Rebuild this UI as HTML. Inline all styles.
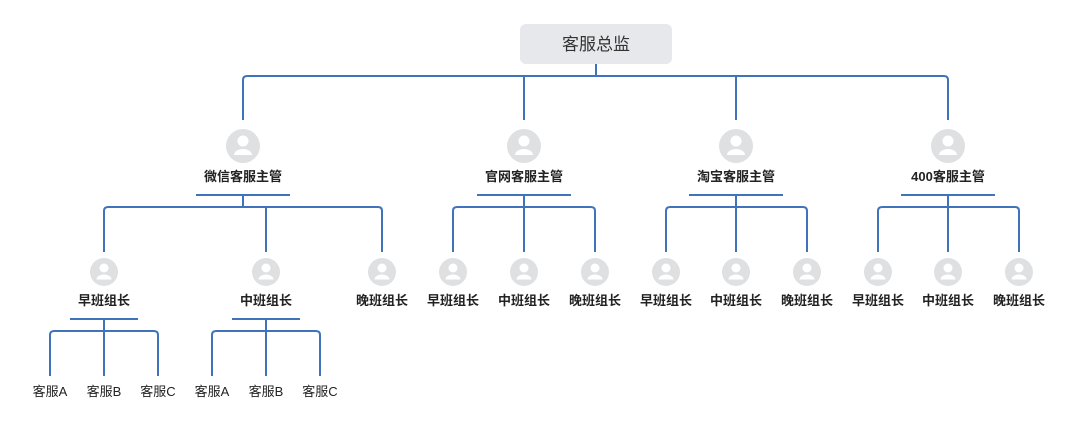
<!DOCTYPE html>
<html><head><meta charset="utf-8"><style>
html,body{margin:0;padding:0;background:#fff;}
svg{display:block;}
text{font-family:"Liberation Sans","Noto Sans CJK SC",sans-serif;fill:#222;}
.b{font-weight:bold;font-size:13px;}
.r{font-size:13px;}
</style></head><body>
<svg width="1080" height="433" viewBox="0 0 1080 433" xmlns="http://www.w3.org/2000/svg">
<defs>
<g id="av1"><circle r="17" fill="#dfe0e2"/><circle cy="-5" r="5.5" fill="#fff"/><path d="M-9 9 a9 6 0 0 1 18 0 z" fill="#fff"/></g>
<g id="av2"><circle r="14" fill="#dfe0e2"/><circle cy="-4" r="4.5" fill="#fff"/><path d="M-7.5 7.5 a7.5 5 0 0 1 15 0 z" fill="#fff"/></g>
</defs>
<rect x="520" y="24" width="152" height="40" rx="6" fill="#e6e8eb"/>
<text x="596" y="50" text-anchor="middle" font-size="17" style="fill:#333">客服总监</text>
<g fill="none" stroke="#3f74bd" stroke-width="2">
<path d="M596 64 V76"/>
<path d="M243 120 V80 q0 -4 4 -4 H944 q4 0 4 4 V120"/>
<path d="M524 76 V120 M736 76 V120"/>
<!-- level 2 -->
<path d="M196 195 H290 M243 195 V207"/>
<path d="M104 252 V211 q0 -4 4 -4 H378 q4 0 4 4 V252 M266 207 V252"/>
<path d="M477 195 H571 M524 195 V207"/>
<path d="M453 252 V211 q0 -4 4 -4 H591 q4 0 4 4 V252 M524 207 V252"/>
<path d="M689 195 H783 M736 195 V207"/>
<path d="M666 252 V211 q0 -4 4 -4 H803 q4 0 4 4 V252 M736 207 V252"/>
<path d="M901 195 H995 M948 195 V207"/>
<path d="M878 252 V211 q0 -4 4 -4 H1015 q4 0 4 4 V252 M948 207 V252"/>
<!-- level 3 -->
<path d="M70 319 H138 M104 319 V331"/>
<path d="M50 376 V335 q0 -4 4 -4 H154 q4 0 4 4 V376 M104 331 V376"/>
<path d="M232 319 H300 M266 319 V331"/>
<path d="M212 376 V335 q0 -4 4 -4 H316 q4 0 4 4 V376 M266 331 V376"/>
</g>
<use href="#av1" x="243" y="146"/><use href="#av1" x="524" y="146"/><use href="#av1" x="736" y="146"/><use href="#av1" x="948" y="146"/>
<g class="b" text-anchor="middle">
<text x="243" y="181">微信客服主管</text><text x="524" y="181">官网客服主管</text><text x="736" y="181">淘宝客服主管</text><text x="948" y="181">400客服主管</text>
</g>
<use href="#av2" x="104" y="272"/><use href="#av2" x="266" y="272"/><use href="#av2" x="382" y="272"/>
<use href="#av2" x="453" y="272"/><use href="#av2" x="524" y="272"/><use href="#av2" x="595" y="272"/>
<use href="#av2" x="666" y="272"/><use href="#av2" x="736" y="272"/><use href="#av2" x="807" y="272"/>
<use href="#av2" x="878" y="272"/><use href="#av2" x="948" y="272"/><use href="#av2" x="1019" y="272"/>
<g class="b" text-anchor="middle">
<text x="104" y="305">早班组长</text><text x="266" y="305">中班组长</text><text x="382" y="305">晚班组长</text>
<text x="453" y="305">早班组长</text><text x="524" y="305">中班组长</text><text x="595" y="305">晚班组长</text>
<text x="666" y="305">早班组长</text><text x="736" y="305">中班组长</text><text x="807" y="305">晚班组长</text>
<text x="878" y="305">早班组长</text><text x="948" y="305">中班组长</text><text x="1019" y="305">晚班组长</text>
</g>
<g class="r" text-anchor="middle">
<text x="50" y="396">客服A</text><text x="104" y="396">客服B</text><text x="158" y="396">客服C</text>
<text x="212" y="396">客服A</text><text x="266" y="396">客服B</text><text x="320" y="396">客服C</text>
</g>
</svg>
</body></html>
